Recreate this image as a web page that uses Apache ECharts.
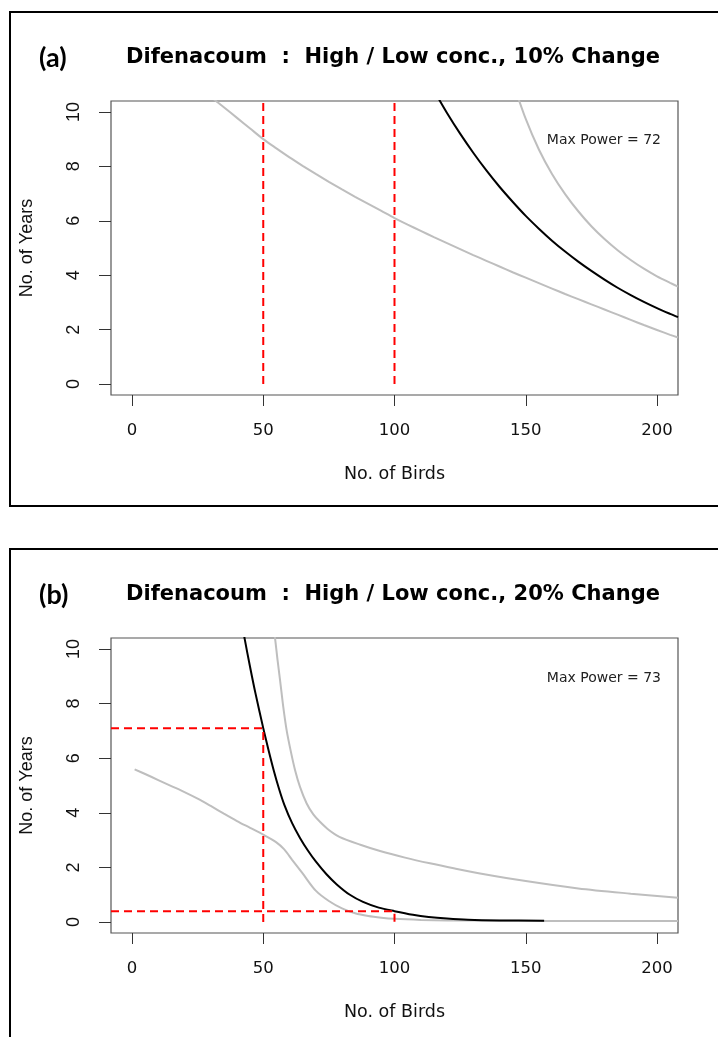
<!DOCTYPE html>
<html>
<head>
<meta charset="utf-8">
<script src="https://cdn.jsdelivr.net/npm/echarts@6/dist/echarts.min.js"></script>
<style>html,body{margin:0;padding:0;background:#fff;}#c{width:718px;height:1037px;}</style>
</head>
<body>
<div id="c"></div>
<script>
// ---- tick labels ----
const xTicks = [0, 50, 100, 150, 200];
const yTicks = [0, 2, 4, 6, 8, 10];

// ---- panel (a): 10% change ----
const aPower = [[115,10.79],[120,9.96],[125,9.20],[130,8.50],[135,7.85],[140,7.25],[145,6.70],[150,6.18],[155,5.71],[160,5.27],[165,4.87],[170,4.50],[175,4.16],[180,3.84],[185,3.54],[190,3.27],[195,3.02],[200,2.79],[205,2.58],[208,2.46]];
const aUpper = [[145,11.12],[150,9.74],[155,8.62],[160,7.72],[165,6.98],[170,6.35],[175,5.80],[180,5.33],[185,4.92],[190,4.56],[195,4.24],[200,3.96],[205,3.72],[208,3.58]];
const aLower = [[30,10.55],[35,10.17],[40,9.78],[45,9.39],[50,9.0],[55,8.66],[60,8.33],[65,8.02],[70,7.72],[75,7.43],[80,7.15],[85,6.88],[90,6.62],[95,6.36],[100,6.1],[105,5.86],[110,5.63],[115,5.4],[120,5.18],[125,4.96],[130,4.74],[135,4.53],[140,4.32],[145,4.11],[150,3.91],[155,3.71],[160,3.51],[165,3.31],[170,3.12],[175,2.93],[180,2.74],[185,2.55],[190,2.36],[195,2.17],[200,1.99],[205,1.81],[208,1.71]];
const aRef50 = [[50,0],[50,10.4]];
const aRef100 = [[100,0],[100,10.4]];

// ---- panel (b): 20% change ----
const bPower = [[42,10.88],[43,10.33],[45,9.33],[47,8.39],[50,7.1],[52,6.3],[54,5.55],[56,4.88],[58,4.3],[61,3.62],[64,3.08],[67,2.62],[70,2.22],[74,1.76],[78,1.38],[83,1.0],[88,0.74],[94,0.53],[100,0.4],[107,0.27],[113,0.19],[120,0.13],[128,0.085],[140,0.06],[157,0.05]];
const bUpper = [[54,10.7],[54.5,10.39],[55.5,9.55],[56.4,8.86],[57.6,7.9],[58.9,7.03],[60.5,6.25],[62.1,5.57],[64,4.95],[66.5,4.35],[69,3.95],[71.6,3.67],[75,3.37],[79,3.12],[87,2.83],[94.5,2.6],[104,2.36],[113.5,2.15],[123,1.96],[132.6,1.78],[150,1.5],[170,1.23],[190,1.04],[208,0.89]];
const bLower = [[1,5.59],[5,5.42],[10,5.2],[15,4.98],[20,4.76],[25,4.52],[30,4.25],[35,3.97],[40,3.7],[45,3.45],[50,3.2],[55,2.92],[58,2.66],[61,2.28],[65,1.78],[70,1.15],[75,0.77],[80,0.5],[85,0.32],[90,0.22],[95,0.16],[100,0.12],[110,0.08],[120,0.06],[140,0.05],[170,0.04],[208,0.04]];
const bRef50 = [[-8,7.1],[50,7.1],[50,0]];
const bRef100 = [[-8,0.4],[100,0.4],[100,0]];

const titles = ['Difenacoum  :  High / Low conc., 10% Change', 'Difenacoum  :  High / Low conc., 20% Change'];
const panelTags = ['(a)', '(b)'];
const maxPower = ['Max Power = 72', 'Max Power = 73'];

const chart = echarts.init(document.getElementById('c'), null, {renderer: 'canvas'});

function xAxisFor(i) {
  return {
    type: 'value', gridIndex: i, min: -8, max: 208,
    axisLine: {show: false, onZero: false}, splitLine: {show: false},
    axisTick: {show: true, customValues: xTicks, length: 11, lineStyle: {color: '#333', width: 1}},
    axisLabel: {customValues: xTicks, margin: 27, fontSize: 16.5, color: '#111', fontFamily: 'DejaVu Sans'},
    name: 'No. of Birds', nameLocation: 'middle', nameGap: 70,
    nameTextStyle: {fontSize: 17.5, color: '#111', fontFamily: 'DejaVu Sans'}
  };
}
function yAxisFor(i) {
  return {
    type: 'value', gridIndex: i, min: -0.4, max: 10.4,
    axisLine: {show: false, onZero: false}, splitLine: {show: false},
    axisTick: {show: true, customValues: yTicks, length: 12, lineStyle: {color: '#333', width: 1}},
    axisLabel: {customValues: yTicks, rotate: 90, margin: 28, fontSize: 18, color: '#111', fontFamily: 'Liberation Sans'},
    name: 'No. of Years', nameLocation: 'middle', nameGap: 75,
    nameTextStyle: {fontSize: 18, color: '#111', fontFamily: 'Liberation Sans'}
  };
}
function lineSeries(data, i, color, extra) {
  return Object.assign({
    type: 'line', xAxisIndex: i, yAxisIndex: i, data: data,
    showSymbol: false, symbol: 'none', clip: true, silent: true,
    smooth: 0.3,
    lineStyle: {color: color, width: 2}
  }, extra || {});
}
const gray = '#BEBEBE';
const red = '#FF0000';
const dashed = {smooth: false, lineStyle: {color: red, width: 2, type: [8, 5]}, z: 5};

const panelTops = [12, 549];
const graphics = [];
[0, 1].forEach(i => {
  const t = panelTops[i];
  graphics.push({type: 'rect', shape: {x: 10, y: t, width: 720, height: 494}, style: {fill: 'none', stroke: '#000', lineWidth: 2}, z: 10});
  graphics.push({type: 'text', style: {text: panelTags[i], x: 39, y: t + 46, textAlign: 'left', textVerticalAlign: 'middle', font: 'bold 27px Lato', fill: '#000'}});
  graphics.push({type: 'text', style: {text: titles[i], x: 126, y: t + 46, textAlign: 'left', textVerticalAlign: 'middle', font: 'bold 21px "DejaVu Sans"', fill: '#000'}});
});
graphics.push({type: 'text', style: {text: maxPower[0], x: 661, y: 140, textAlign: 'right', textVerticalAlign: 'middle', font: '14px "DejaVu Sans"', fill: '#222'}});
graphics.push({type: 'text', style: {text: maxPower[1], x: 661, y: 678, textAlign: 'right', textVerticalAlign: 'middle', font: '14px "DejaVu Sans"', fill: '#222'}});

chart.setOption({
  animation: false,
  backgroundColor: '#fff',
  grid: [
    {left: 111, top: 101, width: 567, height: 294, show: true, borderColor: '#555', borderWidth: 1.2, backgroundColor: 'transparent'},
    {left: 111, top: 638, width: 567, height: 295, show: true, borderColor: '#555', borderWidth: 1.2, backgroundColor: 'transparent'}
  ],
  xAxis: [xAxisFor(0), xAxisFor(1)],
  yAxis: [yAxisFor(0), yAxisFor(1)],
  graphic: graphics,
  series: [
    lineSeries(aLower, 0, gray),
    lineSeries(aUpper, 0, gray),
    lineSeries(aPower, 0, '#000'),
    lineSeries(aRef50, 0, red, dashed),
    lineSeries(aRef100, 0, red, dashed),
    lineSeries(bLower, 1, gray),
    lineSeries(bUpper, 1, gray),
    lineSeries(bPower, 1, '#000'),
    lineSeries(bRef50, 1, red, dashed),
    lineSeries(bRef100, 1, red, dashed)
  ]
});
</script>
</body>
</html>
